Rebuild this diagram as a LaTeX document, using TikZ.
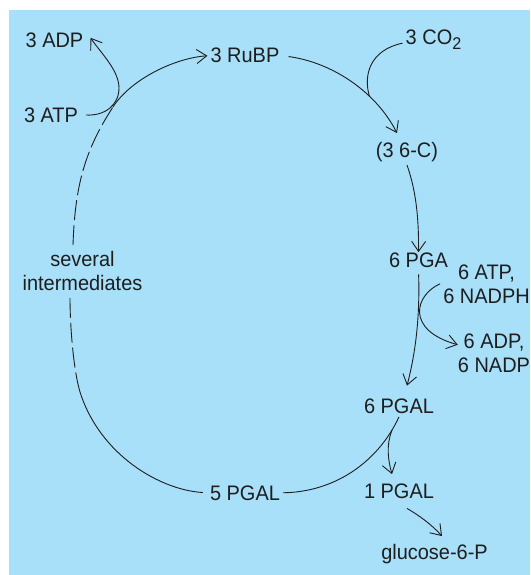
\documentclass[tikz,border=0pt]{standalone}
\usepackage{fontspec}
\setmainfont{Liberation Sans}[FakeStretch=0.95]
\usetikzlibrary{arrows.meta}
\definecolor{bg}{RGB}{168,223,249}
\definecolor{ink}{RGB}{30,30,30}
\begin{document}
\begin{tikzpicture}[x=1pt,y=-1pt,
  lbl/.style={font=\fontsize{21}{24}\selectfont, text=ink, inner sep=3pt, anchor=base},
  conn/.style={draw=ink, line width=0.9pt},
  arr/.style={conn, -{Straight Barb[length=10pt,width=14pt]}},
  dashy/.style={conn, dash pattern=on 20pt off 5pt},
]
\useasboundingbox (0,0) rectangle (530,575);
\fill[white] (0,0) rectangle (530,575);
\fill[bg] (9,10) rectangle (530,575);

% nodes
\node[lbl] (adp) at (54.5,48) {3 ADP};
\node[lbl] (atp) at (51,122) {3 ATP};
\node[lbl] (rubp) at (245,63) {3 RuBP};
\node[lbl] (co2) at (433.5,45) {3 CO\raisebox{-5pt}{\fontsize{17}{17}\selectfont 2}};
\node[lbl] (c6) at (407,157.5) {(3 6-C)};
\node[lbl] (pga) at (418.5,267) {6 PGA};
\node[lbl, align=center] (atpn) at (486.5,303) {6 ATP,\\6 NADPH};
\node[lbl, align=center] (adpn) at (494,372) {6 ADP,\\6 NADP};
\node[lbl] (pgal6) at (399,413.5) {6 PGAL};
\node[lbl] (pgal1) at (399,498) {1 PGAL};
\node[lbl] (glu) at (434.5,559.5) {glucose-6-P};
\node[lbl] (pgal5) at (245,500) {5 PGAL};
\node[lbl, align=center] (inter) at (82.5,290) {several\\intermediates};

% loop bend points
\coordinate (ls) at (80,392);
\coordinate (lb) at (70,297);
\coordinate (lt) at (73,245);
\coordinate (jA) at (113,107);

% Calvin cycle left side
\draw[conn, shorten <=4pt] (pgal5.west) .. controls (160,490) and (100,455) .. (ls);
\draw[dashy] (ls) .. controls (74,372) and (70,330) .. (lb);
\draw[dashy] (lt) .. controls (75,185) and (85,150) .. (jA);
\draw[arr] (jA) .. controls (131,79) and (175,58) .. (rubp.west);

% ATP -> ADP
\draw[arr, shorten <=5pt] (atp.east) .. controls (105,116) and (119,105) .. (119,88)
  .. controls (119,70) and (100,52) .. ([shift={(4,-3)}]adp.east);

% RuBP -> (3 6-C), with CO2 joining
\draw[arr, shorten <=6pt] (rubp.east) .. controls (330,62) and (375,90) .. ([shift={(-10,-6)}]c6.north)
  coordinate[pos=0.68] (jB);
\draw[conn] ([yshift=-3]co2.west) .. controls (370,50) and (363,75) .. (jB);

% (3 6-C) -> 6 PGA
\draw[arr] (c6.south) .. controls (414,185) and (419,210) .. ([yshift=-3]pga.north);

% 6 PGA -> 6 PGAL
\draw[arr, shorten <=4pt] (pga.south) .. controls (420,320) and (415,355) .. ([shift={(8,-10)}]pgal6.north);

% ATP/NADPH -> ADP/NADP
\draw[arr] (atpn.west) .. controls (415,295) and (405,330) .. ([shift={(3,-8)}]adpn.west);

% 6 PGAL -> 5 PGAL, branch to 1 PGAL
\draw[conn] (pgal6.south) .. controls (378,462) and (335,492) .. (pgal5.east)
  coordinate[pos=0.1] (jD);
\draw[arr] (jD) .. controls (386,445) and (388,460) .. ([shift={(-7,-6)}]pgal1.north);

% 1 PGAL -> glucose-6-P
\draw[arr] ([shift={(8,7)}]pgal1.south) .. controls (420,516) and (432,525) .. ([shift={(7.5,-5)}]glu.north);
\end{tikzpicture}
\end{document}
